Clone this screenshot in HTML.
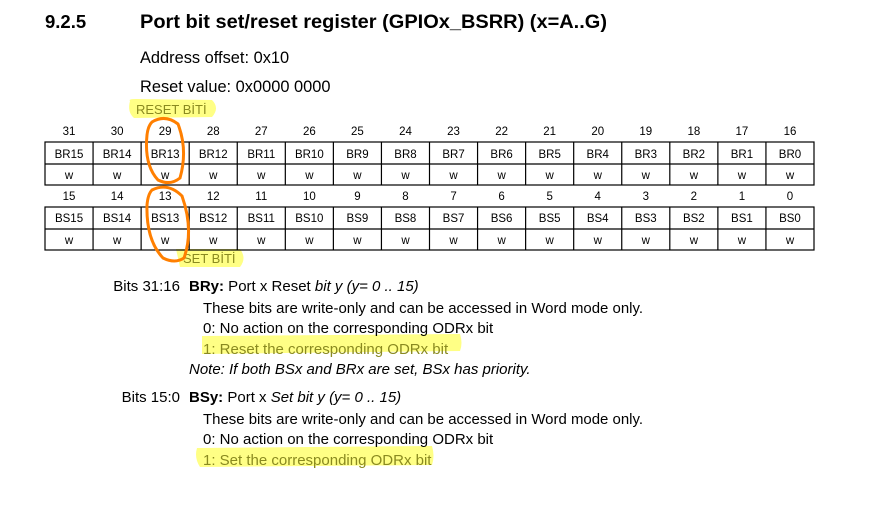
<!DOCTYPE html>
<html><head><meta charset="utf-8"><style>
body{margin:0;width:888px;height:519px;background:#fff;overflow:hidden;font-family:"Liberation Sans",Arial,sans-serif}
svg{position:absolute;left:0;top:0}
</style></head><body>
<svg width="888" height="519" xmlns="http://www.w3.org/2000/svg" font-family="Liberation Sans, Arial, sans-serif">
<path d="M130,101 Q128,99 136,99 L212,100 Q220,108 212,117 L134,118 Q127,112 130,101Z" fill="#ffff70" opacity="0.85"/>
<path d="M176,249 L240,249 Q247,258 240,267 L180,267 Z" fill="#ffff70" opacity="0.85"/>
<path d="M202,336 L460,334 Q463,343 460,351 L202,354 Z" fill="#ffff70" opacity="0.85"/>
<path d="M197,448 L432,446 Q435,456 432,465 L200,467 Q194,458 197,448Z" fill="#ffff70" opacity="0.85"/>
<g fill="#000">
<text x="45" y="28" font-size="18.5" font-weight="bold">9.2.5</text>
<text x="140" y="28" font-size="19.5" font-weight="bold" textLength="467" lengthAdjust="spacingAndGlyphs">Port bit set/reset register (GPIOx_BSRR) (x=A..G)</text>
<text x="140" y="63" font-size="16.4">Address offset: 0x10</text>
<text x="140" y="92" font-size="16.4">Reset value: 0x0000 0000</text>
</g>
<text x="136" y="114" font-size="13" fill="#8a8a20">RESET BİTİ</text>
<text x="183" y="263" font-size="13" fill="#8a8a20">SET BİTİ</text>
<g stroke="#000" stroke-width="1.2" fill="none">
<rect x="45" y="142" width="769" height="43"/><line x1="45" y1="164" x2="814" y2="164"/>
<rect x="45" y="207" width="769" height="43"/><line x1="45" y1="229" x2="814" y2="229"/>
</g>
<g id="cols" stroke="#000" stroke-width="1.2"></g>
<g id="t" font-size="11.5" text-anchor="middle" fill="#000"></g>
<g font-size="15" fill="#000">
<text x="180" y="291" text-anchor="end">Bits 31:16</text>
<text x="189" y="291"><tspan font-weight="bold">BRy:</tspan> Port x Reset <tspan font-style="italic">bit y (y= 0 .. 15)</tspan></text>
<text x="203" y="313" textLength="440" lengthAdjust="spacingAndGlyphs">These bits are write-only and can be accessed in Word mode only.</text>
<text x="203" y="333">0: No action on the corresponding ODRx bit</text>
<text x="203" y="354" fill="#8a8a20">1: Reset the corresponding ODRx bit</text>
<text x="189" y="374" font-style="italic">Note:   If both BSx and BRx are set, BSx has priority.</text>
<text x="180" y="402" text-anchor="end">Bits 15:0</text>
<text x="189" y="402"><tspan font-weight="bold">BSy:</tspan> Port x <tspan font-style="italic">Set bit y (y= 0 .. 15)</tspan></text>
<text x="203" y="424" textLength="440" lengthAdjust="spacingAndGlyphs">These bits are write-only and can be accessed in Word mode only.</text>
<text x="203" y="444">0: No action on the corresponding ODRx bit</text>
<text x="203" y="465" fill="#8a8a20">1: Set the corresponding ODRx bit</text>
</g>
<g stroke="#ff7f00" stroke-width="3" fill="none">
<path d="M152,122 Q165,114 178,124 Q188,150 180,178 Q170,186 158,180 Q144,165 147,135 Q148,126 152,122Z"/>
<path d="M152,190 Q168,182 182,196 Q194,230 184,258 Q175,264 163,258 Q146,240 147,205 Q148,194 152,190Z"/>
</g>
</svg>
<script>
var ns="http://www.w3.org/2000/svg",c=document.getElementById('cols'),t=document.getElementById('t');
function tx(x,y,s){var e=document.createElementNS(ns,'text');e.setAttribute('x',x);e.setAttribute('y',y);e.textContent=s;t.appendChild(e);}
var w=769/16;
for(var i=0;i<16;i++){var x0=45+i*w,cx=x0+w/2;
 if(i>0){[[142,185],[207,250]].forEach(function(r){var l=document.createElementNS(ns,'line');l.setAttribute('x1',x0);l.setAttribute('x2',x0);l.setAttribute('y1',r[0]);l.setAttribute('y2',r[1]);c.appendChild(l);});}
 tx(cx,135,31-i);tx(cx,158,'BR'+(15-i));tx(cx,179,'w');
 tx(cx,200,15-i);tx(cx,222,'BS'+(15-i));tx(cx,244,'w');}
</script>
</body></html>
